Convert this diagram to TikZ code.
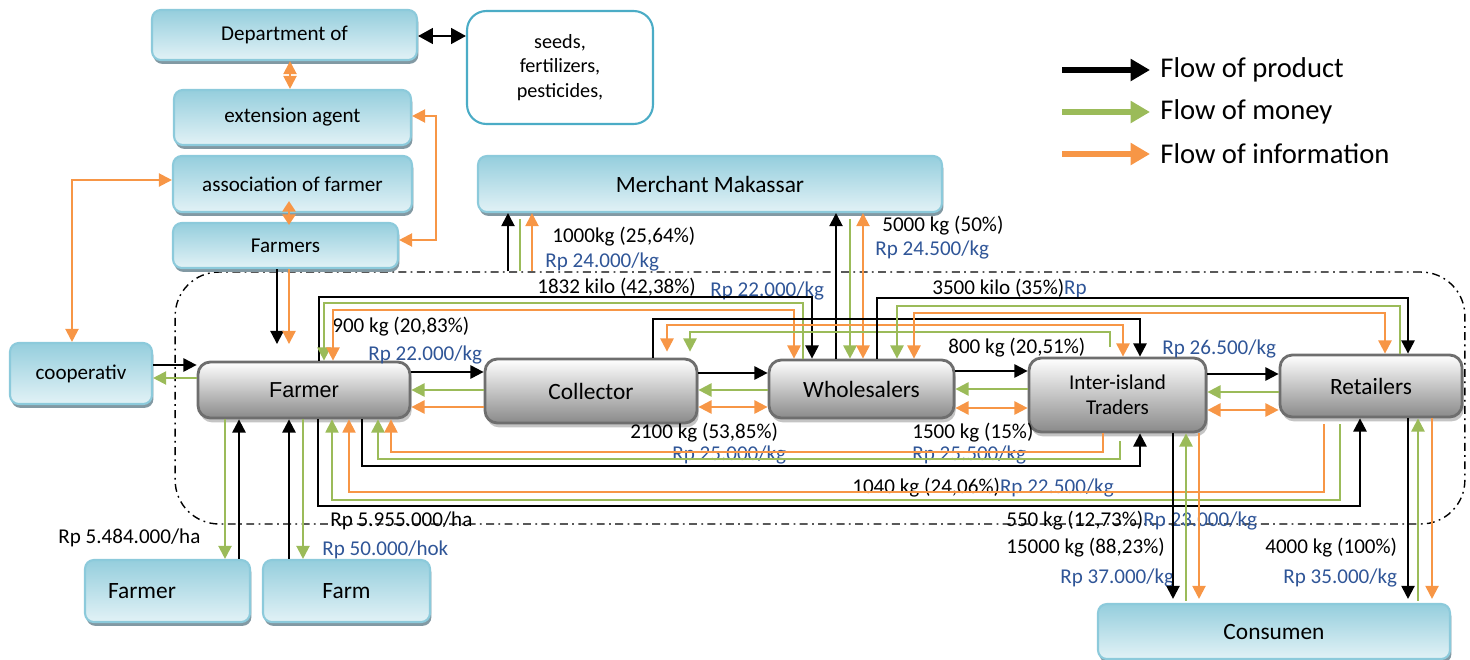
\documentclass[tikz,border=0pt]{standalone}
\usepackage{fontspec}
\setmainfont{Carlito}
\newfontfamily\arialf{Liberation Sans}
\usetikzlibrary{arrows.meta,shadows,calc}
\definecolor{og}{HTML}{F79646}
\definecolor{gn}{HTML}{9BBB59}
\definecolor{bl}{HTML}{2F5597}
\definecolor{bbord}{HTML}{8CCADB}
\definecolor{btop}{HTML}{95CEDD}
\definecolor{bbot}{HTML}{E2F2F6}
\definecolor{bshad}{HTML}{8299A3}
\definecolor{gbord}{HTML}{6E6E6E}
\definecolor{gbot}{HTML}{8A8A8A}
\definecolor{gshad}{HTML}{C4C4C4}
\definecolor{seedb}{HTML}{4BACC6}
\begin{document}
\begin{tikzpicture}[x=0.02cm,y=-0.02cm,
  >={Triangle[length=7.5pt,width=7.5pt]},
  bluebox/.style={draw=bbord, line width=1.2pt, top color=btop, bottom color=bbot,
    rounded corners=5pt, drop shadow={shadow xshift=0.8pt, shadow yshift=-2.2pt, fill=bshad, opacity=1},
    inner sep=0pt, font=\fontsize{12}{14.5}\selectfont},
  graybox/.style={draw=gbord, line width=1.6pt, top color=white, bottom color=gbot,
    rounded corners=7pt, drop shadow={shadow xshift=1pt, shadow yshift=-2.5pt, fill=gshad, opacity=1},
    inner sep=0pt, font=\fontsize{13.3}{15}\selectfont},
  bigf/.style={font=\fontsize{13.3}{15}\selectfont},
  pk/.style={draw=black, line width=1.2pt, ->},
  mo/.style={draw=gn, line width=1.2pt, ->},
  inf/.style={draw=og, line width=1.2pt, ->},
  thinln/.style={line width=0.7pt},
  lbl/.style={anchor=west, inner sep=0pt, font=\fontsize{12}{14}\selectfont},
  blu/.style={lbl, text=bl},
  legtxt/.style={anchor=west, inner sep=0pt, font=\fontsize{16.3}{19}\selectfont},
]
\useasboundingbox (0,0) rectangle (1470,659);

% market boundary
\node[draw, line width=0.8pt, dash pattern=on 4.5pt off 2.5pt on 1pt off 2.5pt,
  rounded corners=25pt, minimum width=25.8cm, minimum height=5.04cm, inner sep=0pt] (market) at (820,398) {};

% boxes
\node[bluebox, minimum width=5.30cm, minimum height=1.00cm] (dept) at (284.5,35) {Department of};
\node[draw=seedb, line width=1.2pt, fill=white, rounded corners=11pt, minimum width=3.72cm, minimum height=2.26cm,
  inner sep=0pt, align=center, font=\fontsize{11.5}{14}\selectfont] (seeds) at (560,67.5) {seeds,\\fertilizers,\\pesticides,};
\node[bluebox, minimum width=4.74cm, minimum height=1.10cm] (ext) at (292.5,117.5) {extension agent};
\node[bluebox, minimum width=4.78cm, minimum height=1.12cm] (assoc) at (292.5,184) {association of farmer};
\node[bluebox, minimum width=4.50cm, minimum height=0.90cm] (farmers) at (285.5,245.5) {Farmers};
\node[bluebox, minimum width=2.84cm, minimum height=1.22cm] (coop) at (81,373.5) {cooperativ};
\node[bluebox, bigf, minimum width=9.28cm, minimum height=1.12cm] (merchant) at (710,184) {Merchant Makassar};
\node[bluebox, bigf, minimum width=3.30cm, minimum height=1.24cm, text width=2.38cm, align=left] (farmerB) at (167.5,591) {Farmer};
\node[bluebox, bigf, minimum width=3.34cm, minimum height=1.24cm] (farm) at (346.5,591) {Farm};
\node[bluebox, bigf, minimum width=7.04cm, minimum height=1.10cm] (cons) at (1274,631.5) {Consumen};

\node[graybox, minimum width=4.24cm, minimum height=1.12cm, font=\arialf\fontsize{12.3}{14}\selectfont] (farmerG) at (304,390) {Farmer};
\node[graybox, minimum width=4.24cm, minimum height=1.28cm] (coll) at (591,391) {Collector};
\node[graybox, minimum width=3.70cm, minimum height=1.16cm] (whole) at (861.5,389) {Wholesalers};
\node[graybox, minimum width=3.54cm, minimum height=1.48cm, align=center, font=\fontsize{12}{14.3}\selectfont] (inter) at (1117.5,395) {Inter-island\\Traders};
\node[graybox, minimum width=3.64cm, minimum height=1.24cm] (ret) at (1371,386) {Retailers};

% legend
\node[legtxt] (lg1) at (1160,70) {Flow of product};
\node[legtxt] (lg2) at (1160,112) {Flow of money};
\node[legtxt] (lg3) at (1160,154) {Flow of information};
\draw[black, line width=3.5pt, -{Triangle[length=11pt,width=12pt]}] ($(lg1.west)+(-98,0)$) -- ($(lg1.west)+(-10,0)$);
\draw[gn, line width=3.5pt, -{Triangle[length=11pt,width=12pt]}] ($(lg2.west)+(-98,0)$) -- ($(lg2.west)+(-10,0)$);
\draw[og, line width=3.5pt, -{Triangle[length=11pt,width=12pt]}] ($(lg3.west)+(-98,0)$) -- ($(lg3.west)+(-10,0)$);

% labels
\node[lbl] (l1) at (552,237) {1000kg (25,64\%)};
\node[blu] (l2) at (545,262) {Rp 24.000/kg};
\node[lbl] (l3) at (882,226) {5000 kg (50\%)};
\node[blu] (l4) at (875,250) {Rp 24.500/kg};
\node[lbl] (l5) at (537,287) {1832 kilo (42,38\%)};
\node[blu] (l6) at (710,291) {Rp 22.000/kg};
\node[lbl] (l7) at (932,288) {3500 kilo (35\%)\textcolor{bl}{Rp}};
\node[lbl] (l8) at (332,327) {900 kg (20,83\%)};
\node[blu] (l9) at (368,355) {Rp 22.000/kg};
\node[lbl] (l10) at (948,348) {800 kg (20,51\%)};
\node[blu] (l11) at (1162,349) {Rp 26.500/kg};
\node[lbl] (l12) at (630,433) {2100 kg (53,85\%)};
\node[blu] (l13) at (672,455) {Rp 25.000/kg};
\node[lbl] (l14) at (912,433) {1500 kg (15\%)};
\node[blu] (l15) at (912,455) {Rp 25.500/kg};
\node[lbl] (l16) at (852,488) {1040 kg (24,06\%)\textcolor{bl}{Rp 22.500/kg}};
\node[lbl] (l17) at (1006,521) {550 kg (12,73\%)\textcolor{bl}{Rp 23.000/kg}};
\node[lbl] (l18) at (330,521) {Rp 5.955.000/ha};
\node[lbl] (l19) at (58,538) {Rp 5.484.000/ha};
\node[blu] (l20) at (322,550) {Rp 50.000/hok};
\node[lbl] (l21) at (1006,548) {15000 kg (88,23\%)};
\node[blu] (l22) at (1060,578) {Rp 37.000/kg};
\node[lbl] (l23) at (1265,548) {4000 kg (100\%)};
\node[blu] (l24) at (1283,578) {Rp 35.000/kg};

% top institutional links
\draw[pk, <->, >={Triangle[length=8.5pt,width=9pt]}] (dept.east |- 0,36) -- (seeds.west |- 0,36);
\draw[inf, <->] (dept.south -| 290,0) -- (ext.north -| 290,0);
\draw[inf, <->, >={Triangle[length=6pt,width=7.5pt]}] ($(assoc.south -| 289,0)+(0,-12)$) -- ($(farmers.north -| 289,0)+(0,3)$);
\draw[inf, <->] (ext.east |- 0,116) -- (436,116) -- (436,240) -- (farmers.east |- 0,240);
\draw[inf, <->] (assoc.west |- 0,180) -- (72,180) -- (coop.north -| 72,0);
\draw[pk] (farmers.south -| 277,0) -- ++(0,75);
\draw[inf] (farmers.south -| 289,0) -- ++(0,75);

% cooperative
\draw[pk] (coop.east |- 0,365) -- (farmerG.west |- 0,365);
\draw[mo] (farmerG.west |- 0,378) -- (coop.east |- 0,378);

% chain horizontals
\draw[pk] (farmerG.east |- 0,372) -- (coll.west |- 0,372);
\draw[mo] (coll.west |- 0,390) -- (farmerG.east |- 0,390);
\draw[inf] (coll.west |- 0,407) -- (farmerG.east |- 0,407);
\draw[pk] (coll.east |- 0,373) -- (whole.west |- 0,373);
\draw[mo] (whole.west |- 0,390) -- (coll.east |- 0,390);
\draw[inf, <->] (coll.east |- 0,407) -- (whole.west |- 0,407);
\draw[pk] (whole.east |- 0,371) -- (inter.west |- 0,371);
\draw[mo] (inter.west |- 0,389) -- (whole.east |- 0,389);
\draw[inf, <->] (whole.east |- 0,408) -- (inter.west |- 0,408);
\draw[pk] (inter.east |- 0,374) -- (ret.west |- 0,374);
\draw[mo] (ret.west |- 0,392) -- (inter.east |- 0,392);
\draw[inf, <->] (inter.east |- 0,410) -- (ret.west |- 0,410);

% merchant links
\draw[pk] (market.north -| 508,0) -- (merchant.south -| 508,0);
\draw[mo, -] (market.north -| 520,0) -- ($(merchant.south -| 520,0)+(0,6)$);
\draw[inf] (market.north -| 532,0) -- (merchant.south -| 532,0);
\draw[pk] (whole.north -| 836,0) -- (merchant.south -| 836,0);
\draw[mo] ($(merchant.south -| 850,0)+(0,6)$) -- (whole.north -| 850,0);
\draw[inf, <->] (merchant.south -| 863,0) -- (whole.north -| 863,0);

% farmer - wholesalers (top)
\draw[pk] (farmerG.north -| 319,0) -- (319,297) -- (812,297) -- (whole.north -| 812,0);
\draw[mo] (whole.north -| 803,0) -- (803,303) -- (324,303) -- (farmerG.north -| 324,0);
\draw[inf, <->] (farmerG.north -| 333,0) -- (333,310) -- (794,310) -- (whole.north -| 794,0);

% collector - inter-island (top)
\draw[pk] (coll.north -| 653,0) -- (653,319) -- (1140,319) -- (inter.north -| 1140,0);
\draw[inf, <->] ($(coll.north -| 667,0)+(0,-6)$) -- (667,325) -- (1123,325) -- (inter.north -| 1123,0);
\draw[mo] ($(inter.north -| 1110,0)+(0,-10)$) -- (1110,332) -- (690,332) -- ($(coll.north -| 690,0)+(0,-6)$);

% wholesalers - retailers (top)
\draw[pk] (whole.north -| 877,0) -- (877,298) -- (1408,298) -- (ret.north -| 1408,0);
\draw[mo] (ret.north -| 1400,0) -- (1400,306) -- (897,306) -- (whole.north -| 897,0);
\draw[inf, <->] (whole.north -| 914,0) -- (914,313) -- (1385,313) -- (ret.north -| 1385,0);

% farmer - inter-island / retailers (bottom)
\draw[pk] (farmerG.south -| 362,0) -- (362,466) -- (1140,466) -- (inter.south -| 1140,0);
\draw[mo] ($(inter.south -| 1120,0)+(0,8)$) -- (1120,459) -- (378,459) -- (farmerG.south -| 378,0);
\draw[inf, thinln] (inter.south -| 1103,0) -- (1103,452) -- (391,452) -- (farmerG.south -| 391,0);
\draw[pk] (farmerG.south -| 318,0) -- (318,506) -- (1360,506) -- (ret.south -| 1360,0);
\draw[mo, thinln] ($(ret.south -| 1340,0)+(0,6)$) -- (1340,500) -- (332,500) -- (farmerG.south -| 332,0);
\draw[inf, thinln] ($(ret.south -| 1324,0)+(0,6)$) -- (1324,492) -- (349,492) -- (farmerG.south -| 349,0);

% farmer - labour / land
\draw[mo] (farmerG.south -| 225,0) -- (farmerB.north -| 225,0);
\draw[pk] (farmerB.north -| 239,0) -- (farmerG.south -| 239,0);
\draw[pk] (farm.north -| 289,0) -- (farmerG.south -| 289,0);
\draw[mo] (farmerG.south -| 303,0) -- (farm.north -| 303,0);

% consumers
\draw[pk] (inter.south -| 1173,0) -- ($(cons.north -| 1173,0)+(0,-4)$);
\draw[mo] ($(cons.north -| 1186,0)+(0,-2)$) -- (inter.south -| 1186,0);
\draw[inf] (inter.south -| 1199,0) -- ($(cons.north -| 1199,0)+(0,-4)$);
\draw[pk] (ret.south -| 1408,0) -- ($(cons.north -| 1408,0)+(0,-4)$);
\draw[mo] ($(cons.north -| 1418,0)+(0,-2)$) -- (ret.south -| 1418,0);
\draw[inf] (ret.south -| 1432,0) -- ($(cons.north -| 1432,0)+(0,-4)$);
\end{tikzpicture}
\end{document}
